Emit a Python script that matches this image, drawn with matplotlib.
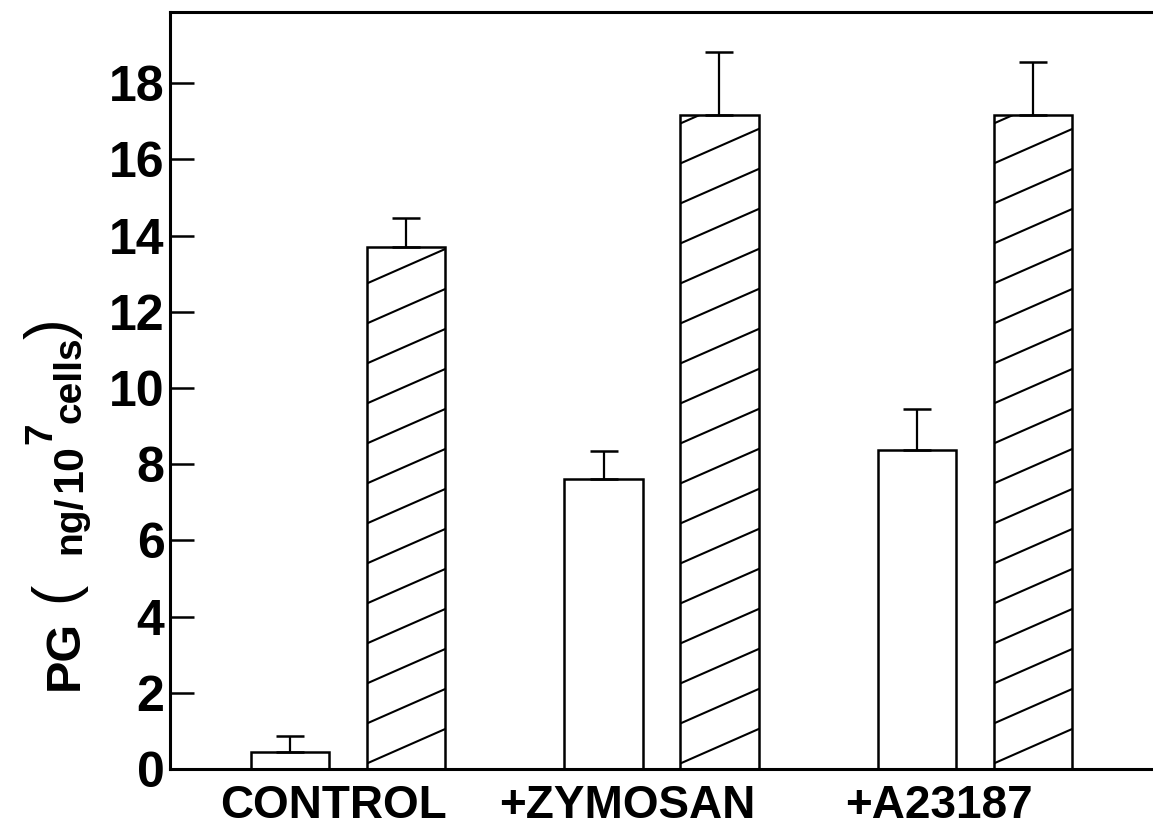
import numpy as np
import matplotlib
matplotlib.use("Agg")
import matplotlib.pyplot as plt
from matplotlib import font_manager

# data
groups = ["CONTROL", "+ZYMOSAN", "+A23187"]
open_vals = [0.45, 7.6, 8.37]
open_err = [0.42, 0.75, 1.08]
hatch_vals = [13.7, 17.17, 17.17]
hatch_err = [0.76, 1.65, 1.39]
yticks = [0, 2, 4, 6, 8, 10, 12, 14, 16, 18]

plt.rcParams['font.family'] = ['Liberation Sans', 'DejaVu Sans']
plt.rcParams['font.weight'] = 'bold'

names = {f.name for f in font_manager.fontManager.ttflist}
narrow = 'Liberation Sans Narrow' if 'Liberation Sans Narrow' in names else 'Liberation Sans'

W, H = 1153, 832
fig = plt.figure(figsize=(W / 100, H / 100), dpi=100)
ax = fig.add_axes([170 / W, 63 / H, 983 / W, 757 / H])

x = np.arange(len(groups))
off = 0.185
bw = 0.25

ax.set_xlim(-0.568, 2.568)
ax.set_ylim(0, 19.87)

ekw = dict(ecolor='black', elinewidth=1.6, capsize=10, capthick=1.8)
ax.bar(x - off, open_vals, bw, color='white', edgecolor='black', linewidth=1.8,
       yerr=[np.zeros(len(open_err)), open_err], error_kw=ekw, zorder=2)
hb = ax.bar(x + off, hatch_vals, bw, color='white', edgecolor='black', linewidth=1.8,
            yerr=[np.zeros(len(hatch_err)), hatch_err], error_kw=ekw, zorder=2)

# shallow diagonal hatching, drawn in pixel space and clipped to each bar
slope = 0.44
step = 40
for p in hb.patches:
    (x0, y0), (x1, y1) = ax.transData.transform([(p.get_x(), 0), (p.get_x() + p.get_width(), p.get_height())])
    ys = np.arange(y0 - slope * (x1 - x0), y1 + step, step)
    for yy in ys:
        ln, = ax.plot([x0, x1], [yy, yy + slope * (x1 - x0)], transform=None,
                      color='black', lw=1.5, zorder=3)
        ln.set_clip_path(p)

for s in ['left', 'bottom', 'top']:
    ax.spines[s].set_linewidth(2.2)
ax.spines['right'].set_visible(False)

ax.set_yticks(yticks)
ax.set_yticklabels([str(t) for t in yticks], fontsize=36, fontweight='bold')
ax.tick_params(axis='y', direction='in', length=17, width=1.8, pad=4)
label_shift = [-0.045, -0.11, -0.115]
ax.set_xticks(x + np.array(label_shift))
ax.set_xticklabels(groups, fontsize=33, fontweight='bold')
ax.tick_params(axis='x', length=0, pad=11)

# y label "PG (ng/10^7 cells)" set piece by piece, rotated
# (text, baseline x px, centre y px, size, weight, family)
ylabel_parts = [
    ("PG", 78, 655, 35, 'bold', narrow),
    ("(", 72, 592, 44, 'normal', 'Liberation Sans'),
    ("ng/", 80, 525, 28, 'bold', 'Liberation Sans'),
    ("10", 81, 468, 31, 'bold', 'Liberation Sans'),
    ("7", 51, 433, 28, 'bold', 'Liberation Sans'),
    ("cells", 81, 380, 28, 'bold', 'Liberation Sans'),
    (")", 70, 329, 45, 'normal', 'Liberation Sans'),
]
for t, bx, cy, fs, fw, fam in ylabel_parts:
    fig.text(bx / W, 1 - cy / H, t, rotation=90, rotation_mode='anchor',
             ha='center', va='baseline', fontsize=fs, fontweight=fw, family=fam)

fig.savefig('out.png', dpi=100)
